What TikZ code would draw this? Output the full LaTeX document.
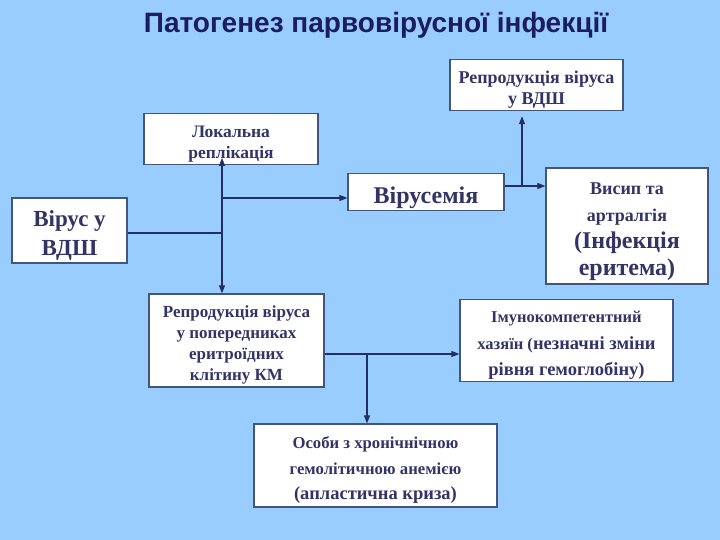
\documentclass[tikz,border=0pt]{standalone}
\usepackage{fontspec}
\setmainfont{Liberation Serif}
\newfontfamily\titlefont{Liberation Sans}
\usetikzlibrary{arrows.meta, positioning}
\definecolor{slidebg}{HTML}{99CCFF}
\definecolor{boxtext}{HTML}{333366}
\definecolor{boxline}{HTML}{44557A}
\definecolor{arrowline}{HTML}{23305E}
\definecolor{titletext}{HTML}{1C1C60}
% extra room above the first line, as on the slide
\newcommand{\toppad}{\raisebox{7pt}{\vphantom{Й}}}

\begin{document}
\begin{tikzpicture}[x=1pt, y=-1pt,
    stagebox/.style={
        draw=boxline,
        line width=1.2pt,
        fill=white,
        text=boxtext,
        font=\bfseries\fontsize{17}{21}\selectfont,
        align=center,
        inner sep=2pt
    },
    link/.style={
        draw=arrowline,
        line width=1.1pt
    },
    arr/.style={
        link,
        -{Triangle[length=8pt,width=6pt]}
    }
]

% background and title
\fill[slidebg] (0,0) rectangle (720,540);
\node[anchor=base, text=titletext, font=\titlefont\bfseries\fontsize{28}{32}\selectfont] (title) at (376,33) {Патогенез парвовірусної інфекції};

% Boxes
\node[stagebox, minimum width=115, minimum height=65, font=\bfseries\fontsize{23}{29}\selectfont] (virus) at (69.5,230.5) {\toppad Вірус у\\ВДШ};
\node[stagebox, minimum width=174, minimum height=50, font=\bfseries\fontsize{17.5}{21}\selectfont] (local) at (231,139) {\toppad Локальна\\реплікація};
\node[stagebox, minimum width=156, minimum height=36, font=\bfseries\fontsize{24}{28}\selectfont] (viremia) at (426,192) {\toppad Вірусемія};
\node[stagebox, minimum width=173, minimum height=50, font=\bfseries\fontsize{18}{21}\selectfont] (reprvdsh) at (536.5,85) {\toppad Репродукція віруса\\у ВДШ};
\node[stagebox, minimum width=162, minimum height=116, font=\bfseries\fontsize{18}{27}\selectfont] (rash) at (627,226)
    {\toppad Висип та\\артралгія\\{\fontsize{24}{27}\selectfont (Інфекція}\\{\fontsize{24}{27}\selectfont еритема)}};
\node[stagebox, minimum width=175, minimum height=93] (reprkm) at (236.5,340.5)
    {\toppad Репродукція віруса\\у попередниках\\еритроїдних\\клітину КМ};
\node[stagebox, minimum width=213, minimum height=81, font=\bfseries\fontsize{16.5}{26.5}\selectfont] (immuno) at (566.5,340.5)
    {\toppad Імунокомпетентний\\хазяїн ({\fontsize{18.5}{26.5}\selectfont незначні зміни}\\{\fontsize{18.5}{26.5}\selectfont рівня гемоглобіну)}};
\node[stagebox, minimum width=243, minimum height=83, font=\bfseries\fontsize{16.7}{25.5}\selectfont] (chronic) at (375.5,465.5)
    {\toppad Особи з хронічнічною\\гемолітичною анемією\\{\fontsize{18.5}{25.5}\selectfont (апластична криза)}};

% junctions
\coordinate (j1) at (222,233);
\coordinate (j2) at (222,198);
\coordinate (j3) at (522,186);
\coordinate (j4) at (367,354);

% Connectors
\draw[link] (virus.east |- j1) -- (j1);
\draw[arr] (j1) -- ([yshift=7pt]local.south -| j1);
\draw[arr] (j1) -- (reprkm.north -| j1);
\draw[arr] (j2) -- (viremia.west |- j2);
\draw[link] (viremia.east |- j3) -- (j3);
\draw[arr] (j3) -- (rash.west |- j3);
\draw[arr] (j3) -- ([yshift=-5pt]reprvdsh.south -| j3);
\draw[arr] (reprkm.east |- j4) -- (immuno.west |- j4);
\draw[arr] (j4) -- (chronic.north -| j4);

\end{tikzpicture}
\end{document}
